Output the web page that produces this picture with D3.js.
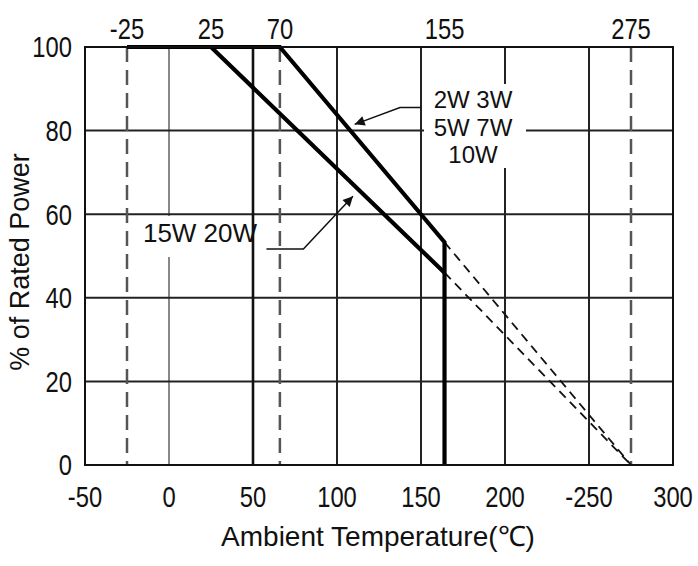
<!DOCTYPE html>
<html>
<head>
<meta charset="utf-8">
<script src="https://cdn.jsdelivr.net/npm/d3@7"></script>
<style>
  body { margin: 0; background: #fff; }
  text { font-family: "Liberation Sans", Arial, sans-serif; fill: #111; }
</style>
</head>
<body>
<div id="chart"></div>
<script>
// axis ticks
var xTicks = [-50, 0, 50, 100, 150, 200, 250, 300];
var xTickLabels = ["-50", "0", "50", "100", "150", "200", "-250", "300"];
var yTicks = [0, 20, 40, 60, 80, 100];
var gridX = [0, 100, 150, 200, 250];
var gridY = [20, 40, 60, 80];
// top reference temperatures (position, label as printed)
var topTicks = [-25, 25, 66, 164, 275];
var topTickLabels = ["-25", "25", "70", "155", "275"];
var dashedX = [-25, 66, 275];

// derating curves
var curveHigh = [[-25, 100], [66, 100], [164, 53.3], [164, 0]];
var curveHighExt = [[164, 53.3], [275, 0]];
var curveLow = [[-25, 100], [25, 100], [164, 46]];
var curveLowExt = [[164, 46], [275, 0]];
var line50 = [[50, 100], [50, 0]];

var labelHigh = ["2W 3W", "5W 7W", "10W"];
var labelLow = ["15W 20W"];
var leaderHigh = [[150, 85.5], [137.5, 85.5], [110.5, 81.5]];
var leaderLow = [[58, 51.7], [80, 51.7], [109.5, 64.3]];

var W = 698, H = 566;
var margin = {top: 47, right: 25, bottom: 101, left: 85};
var narrow = 0.82; // condensed digits

var svg = d3.select("#chart").append("svg")
    .attr("width", W)
    .attr("height", H);

var x = d3.scaleLinear().domain([-50, 300]).range([margin.left, W - margin.right]);
var y = d3.scaleLinear().domain([0, 100]).range([H - margin.bottom, margin.top]);

var line = d3.line()
    .x(function(d) { return x(d[0]); })
    .y(function(d) { return y(d[1]); });

svg.append("defs").append("marker")
    .attr("id", "arrow")
    .attr("markerUnits", "userSpaceOnUse")
    .attr("viewBox", "0 0 10 10")
    .attr("refX", 10).attr("refY", 5)
    .attr("markerWidth", 16).attr("markerHeight", 10)
    .attr("orient", "auto")
    .append("path")
    .attr("d", "M0,0L10,5L0,10Z")
    .attr("fill", "#111");

// grid
svg.selectAll(".gx")
    .data(gridX)
    .enter().append("line")
    .attr("x1", function(d) { return x(d); })
    .attr("x2", function(d) { return x(d); })
    .attr("y1", y(100)).attr("y2", y(0))
    .attr("stroke", function(d) { return d === 0 ? "#888" : "#222"; })
    .attr("stroke-width", 2);

svg.selectAll(".gy")
    .data(gridY)
    .enter().append("line")
    .attr("x1", x(-50)).attr("x2", x(300))
    .attr("y1", function(d) { return y(d); })
    .attr("y2", function(d) { return y(d); })
    .attr("stroke", "#222")
    .attr("stroke-width", 2);

svg.selectAll(".dx")
    .data(dashedX)
    .enter().append("line")
    .attr("x1", function(d) { return x(d); })
    .attr("x2", function(d) { return x(d); })
    .attr("y1", y(100)).attr("y2", y(0))
    .attr("stroke", "#555")
    .attr("stroke-width", 2.5)
    .attr("stroke-dasharray", "15,8");

// white boxes behind the labels
svg.append("rect")
    .attr("x", 424).attr("y", 84).attr("width", 102).attr("height", 84)
    .attr("fill", "#fff");
svg.append("rect")
    .attr("x", 140).attr("y", 216).attr("width", 122).attr("height", 41)
    .attr("fill", "#fff");

// curves
svg.append("path").datum(line50)
    .attr("d", line).attr("fill", "none")
    .attr("stroke", "#111").attr("stroke-width", 2.6);

[curveHighExt, curveLowExt].forEach(function(c) {
    svg.append("path").datum(c)
        .attr("d", line).attr("fill", "none")
        .attr("stroke", "#111").attr("stroke-width", 1.8)
        .attr("stroke-dasharray", "9,6");
});

[curveHigh, curveLow].forEach(function(c) {
    svg.append("path").datum(c)
        .attr("d", line).attr("fill", "none")
        .attr("stroke", "#000").attr("stroke-width", 4.2)
        .attr("stroke-linejoin", "miter");
});

// frame
svg.append("rect")
    .attr("x", x(-50)).attr("y", y(100))
    .attr("width", x(300) - x(-50)).attr("height", y(0) - y(100))
    .attr("fill", "none").attr("stroke", "#111").attr("stroke-width", 2);

// leaders
[leaderHigh, leaderLow].forEach(function(c) {
    svg.append("path").datum(c)
        .attr("d", line).attr("fill", "none")
        .attr("stroke", "#111").attr("stroke-width", 1.5)
        .attr("marker-end", "url(#arrow)");
});

// annotation texts
svg.append("text")
    .attr("text-anchor", "middle")
    .attr("font-size", 24)
    .selectAll("tspan")
    .data(labelHigh)
    .enter().append("tspan")
    .attr("x", 473)
    .attr("y", function(d, i) { return 108 + i * 27.5; })
    .text(function(d) { return d; });

svg.selectAll(".ll")
    .data(labelLow)
    .enter().append("text")
    .attr("x", 200).attr("y", 242)
    .attr("text-anchor", "middle")
    .attr("font-size", 26)
    .text(function(d) { return d; });

// tick labels (horizontally condensed)
svg.selectAll(".xt")
    .data(xTicks)
    .enter().append("text")
    .attr("transform", function(d) { return "translate(" + x(d) + ",507) scale(" + narrow + ",1)"; })
    .attr("text-anchor", "middle")
    .attr("font-size", 29)
    .text(function(d, i) { return xTickLabels[i]; });

svg.selectAll(".tt")
    .data(topTicks)
    .enter().append("text")
    .attr("transform", function(d) { return "translate(" + x(d) + ",39) scale(" + narrow + ",1)"; })
    .attr("text-anchor", "middle")
    .attr("font-size", 29)
    .text(function(d, i) { return topTickLabels[i]; });

svg.selectAll(".yt")
    .data(yTicks)
    .enter().append("text")
    .attr("transform", function(d) { return "translate(72," + y(d) + ") scale(" + narrow + ",1)"; })
    .attr("dy", "0.36em")
    .attr("text-anchor", "end")
    .attr("font-size", 29)
    .text(function(d) { return d; });

// axis titles
svg.append("text")
    .attr("x", 378).attr("y", 546)
    .attr("text-anchor", "middle")
    .attr("font-size", 28)
    .text("Ambient Temperature(℃)");

svg.append("text")
    .attr("transform", "translate(29,262) rotate(-90)")
    .attr("text-anchor", "middle")
    .attr("font-size", 27)
    .text("% of Rated Power");
</script>
</body>
</html>
